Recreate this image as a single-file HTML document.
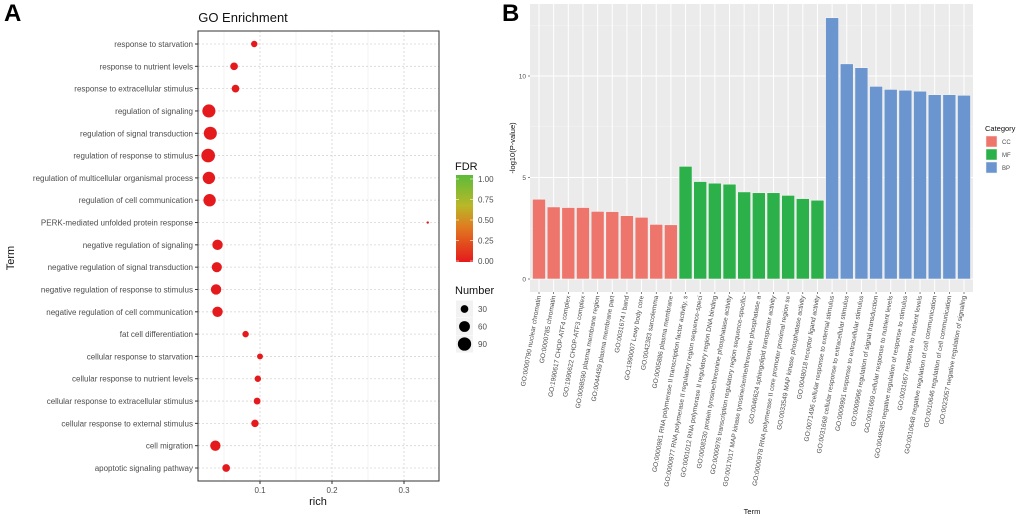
<!DOCTYPE html>
<html><head><meta charset="utf-8"><style>
body{margin:0;background:#fff;}
svg{display:block;font-family:"Liberation Sans",Arial,sans-serif;}
</style></head><body>
<svg id="fig" width="1020" height="518" viewBox="0 0 1020 518">
<defs>
<linearGradient id="fdrg" x1="0" y1="1" x2="0" y2="0">
<stop offset="0" stop-color="#e41a1c"/><stop offset="0.4" stop-color="#e07a20"/><stop offset="0.65" stop-color="#b8b828"/><stop offset="1" stop-color="#5dbb3a"/>
</linearGradient>
</defs>
<text x="4" y="21" font-size="24" font-weight="bold">A</text>
<text x="502" y="21" font-size="24" font-weight="bold">B</text>
<g id="pa"></g>
<g id="pb"></g>
</svg>
<script>
// ---------- Panel A data ----------
const termsA = ["response to starvation","response to nutrient levels","response to extracellular stimulus","regulation of signaling","regulation of signal transduction","regulation of response to stimulus","regulation of multicellular organismal process","regulation of cell communication","PERK-mediated unfolded protein response","negative regulation of signaling","negative regulation of signal transduction","negative regulation of response to stimulus","negative regulation of cell communication","fat cell differentiation","cellular response to starvation","cellular response to nutrient levels","cellular response to extracellular stimulus","cellular response to external stimulus","cell migration","apoptotic signaling pathway"];
const richVals = [0.092,0.064,0.066,0.029,0.031,0.028,0.029,0.030,0.333,0.041,0.040,0.039,0.041,0.080,0.100,0.097,0.096,0.093,0.038,0.053];
const countVals = [21,30,30,87,87,95,78,78,3,55,52,55,55,21,18,21,24,28,55,30];
const fdrVals = [0.01,0.01,0.01,0,0,0,0,0,0.02,0,0,0,0,0.01,0.01,0.01,0.01,0.01,0,0.01];
const xTicksA = [0.1,0.2,0.3];
const fdrTicks = ["0.00","0.25","0.50","0.75","1.00"];
const numTicks = [30,60,90];

// ---------- Panel B data ----------
const cats = ["CC","CC","CC","CC","CC","CC","CC","CC","CC","CC","MF","MF","MF","MF","MF","MF","MF","MF","MF","MF","BP","BP","BP","BP","BP","BP","BP","BP","BP","BP"];
const pvals = [3.93,3.55,3.52,3.52,3.33,3.32,3.12,3.04,2.69,2.67,5.55,4.8,4.72,4.67,4.29,4.25,4.25,4.12,3.96,3.88,12.87,10.6,10.41,9.49,9.34,9.3,9.25,9.08,9.08,9.05];
const terms = ["GO:0000790 nuclear chromatin","GO:0000785 chromatin","GO:1990617 CHOP-ATF4 complex","GO:1990622 CHOP-ATF3 complex","GO:0098590 plasma membrane region","GO:0044459 plasma membrane part","GO:0031674 I band","GO:1990007 Lewy body core","GO:0042383 sarcolemma","GO:0005886 plasma membrane","GO:0000981 RNA polymerase II transcription factor activity, s","GO:0000977 RNA polymerase II regulatory region sequence-speci","GO:0001012 RNA polymerase II regulatory region DNA binding","GO:0008330 protein tyrosine/threonine phosphatase activity","GO:0000976 transcription regulatory region sequence-specific","GO:0017017 MAP kinase tyrosine/serine/threonine phosphatase a","GO:0046624 sphingolipid transporter activity","GO:0000978 RNA polymerase II core promoter proximal region se","GO:0033549 MAP kinase phosphatase activity","GO:0048018 receptor ligand activity","GO:0071496 cellular response to external stimulus","GO:0031668 cellular response to extracellular stimulus","GO:0009991 response to extracellular stimulus","GO:0009966 regulation of signal transduction","GO:0031669 cellular response to nutrient levels","GO:0048585 negative regulation of response to stimulus","GO:0031667 response to nutrient levels","GO:0010648 negative regulation of cell communication","GO:0010646 regulation of cell communication","GO:0023057 negative regulation of signaling"];
const yTicksB = [0,5,10];
const catNames = ["CC","MF","BP"];
const catColors = {CC:"#ee756b",MF:"#2bb04a",BP:"#6a95cf"};

const NS="http://www.w3.org/2000/svg";
function mk(tag,attrs,parent,txt){const e=document.createElementNS(NS,tag);for(const k in attrs)e.setAttribute(k,attrs[k]);if(txt!==undefined)e.textContent=txt;parent.appendChild(e);return e;}

// ---------- Panel A ----------
(function(){
const g=document.getElementById('pa');
const L=198,R=439,T=31,B=481;
const xS=v=>188+v*720;
const yS=i=>44+i*(424/(termsA.length-1));
const rS=n=>0.70*Math.sqrt(n);
const fdrCol=f=>f<0.3?"#e41a1c":"#e07a20";
mk('rect',{x:L,y:T,width:R-L,height:B-T,fill:'#fff'},g);
for(const t of [0.05,0.15,0.25]){const l=mk('line',{x1:xS(t),x2:xS(t),y1:T,y2:B,stroke:'#ebebeb','stroke-width':0.6},g);}
for(const t of xTicksA){const l=mk('line',{x1:xS(t),x2:xS(t),y1:T,y2:B,stroke:'#d6d6d6','stroke-width':0.8,'stroke-dasharray':'2,2'},g);

mk('line',{x1:xS(t),x2:xS(t),y1:B,y2:B+3,stroke:'#333'},g);
const tx=mk('text',{x:xS(t),y:B+12,'font-size':8,fill:'#4d4d4d','text-anchor':'middle'},g,String(t));
}
termsA.forEach((tm,i)=>{const y=yS(i);
mk('line',{x1:L,x2:R,y1:y,y2:y,stroke:'#d6d6d6','stroke-width':0.8,'stroke-dasharray':'2,2'},g);
mk('line',{x1:L-3,x2:L,y1:y,y2:y,stroke:'#333'},g);
const tx=mk('text',{x:L-5,y:y+3,'font-size':8,fill:'#4d4d4d','text-anchor':'end'},g,tm);

const c=mk('circle',{cx:xS(richVals[i]),cy:y,r:rS(countVals[i]),fill:fdrCol(fdrVals[i])},g);
});
mk('rect',{x:L,y:T,width:R-L,height:B-T,fill:'none',stroke:'#333','stroke-width':1},g);
mk('text',{x:243,y:22,'font-size':13,'text-anchor':'middle',fill:'#111',},g,'GO Enrichment');
mk('text',{x:318,y:505,'font-size':11,'text-anchor':'middle',fill:'#111',},g,'rich');
mk('text',{x:14,y:258,'font-size':11,'text-anchor':'middle',fill:'#111',transform:'rotate(-90 14 258)',},g,'Term');
// FDR legend
mk('text',{x:455,y:170,'font-size':11,fill:'#111',},g,'FDR');
mk('rect',{x:456,y:175,width:17,height:87,fill:'url(#fdrg)',},g);
fdrTicks.forEach((t,i)=>{const y=262-i*(82/4)-1;
mk('line',{x1:456,x2:459,y1:y,y2:y,stroke:'#fff','stroke-width':0.6},g);mk('line',{x1:470,x2:473,y1:y,y2:y,stroke:'#fff','stroke-width':0.6},g);
const tx=mk('text',{x:478,y:y+3,'font-size':8,fill:'#4d4d4d'},g,t);});
mk('text',{x:455,y:294,'font-size':11,fill:'#111',},g,'Number');
numTicks.forEach((n,i)=>{const y=309+i*17.5;
mk('rect',{x:456,y:y-8.5,width:17,height:17,fill:'#f2f2f2'},g);
const c=mk('circle',{cx:464.5,cy:y,r:rS(n),fill:'#000'},g);
mk('text',{x:478,y:y+3,'font-size':8,fill:'#4d4d4d'},g,String(n));});
})();

// ---------- Panel B ----------
(function(){
const g=document.getElementById('pb');
const L=530,R=973,T=4,B=292;
const yS=v=>279-v*20.3;
const xS=i=>539+i*((964-539)/(pvals.length-1));
const bw=13;
mk('rect',{x:L,y:T,width:R-L,height:B-T,fill:'#ebebeb',},g);
for(const t of [2.5,7.5,12.5]){mk('line',{x1:L,x2:R,y1:yS(t),y2:yS(t),stroke:'#f6f6f6','stroke-width':0.5},g);}
yTicksB.forEach(t=>{mk('line',{x1:L,x2:R,y1:yS(t),y2:yS(t),stroke:'#fff','stroke-width':1},g);
mk('line',{x1:L-2,x2:L,y1:yS(t),y2:yS(t),stroke:'#333','stroke-width':0.6},g);
const tx=mk('text',{x:L-4,y:yS(t)+2.5,'font-size':6.5,fill:'#4d4d4d','text-anchor':'end'},g,String(t));
});
pvals.forEach((v,i)=>{const x=xS(i);
mk('line',{x1:x,x2:x,y1:T,y2:B,stroke:'#fff','stroke-width':1},g);});
pvals.forEach((v,i)=>{const x=xS(i);
const r=mk('rect',{x:x-bw/2,y:yS(v),width:bw,height:yS(0)-yS(v),fill:catColors[cats[i]],stroke:'#f4f4f4','stroke-width':0.6},g);

mk('line',{x1:x,x2:x,y1:B,y2:B+2,stroke:'#333','stroke-width':0.6},g);
const tx=mk('text',{x:x+2,y:B+4,'font-size':6.6,fill:'#4d4d4d','text-anchor':'end',transform:'rotate(-80 '+(x+2)+' '+(B+4)+')'},g,terms[i]);
});
mk('text',{x:752,y:514,'font-size':7.5,'text-anchor':'middle',fill:'#111',},g,'Term');
mk('text',{x:515,y:148,'font-size':7.5,'text-anchor':'middle',fill:'#111',transform:'rotate(-90 515 148)',},g,'-log10(P-value)');
mk('text',{x:985,y:131,'font-size':7.5,fill:'#111',},g,'Category');
catNames.forEach((c,i)=>{const y=136+i*13;
const r=mk('rect',{x:986,y:y,width:11,height:11,fill:catColors[c],stroke:'#f4f4f4','stroke-width':0.5},g);

const tx=mk('text',{x:1002,y:y+8,'font-size':6,fill:'#4d4d4d'},g,c);
});
})();
</script>
</body></html>
